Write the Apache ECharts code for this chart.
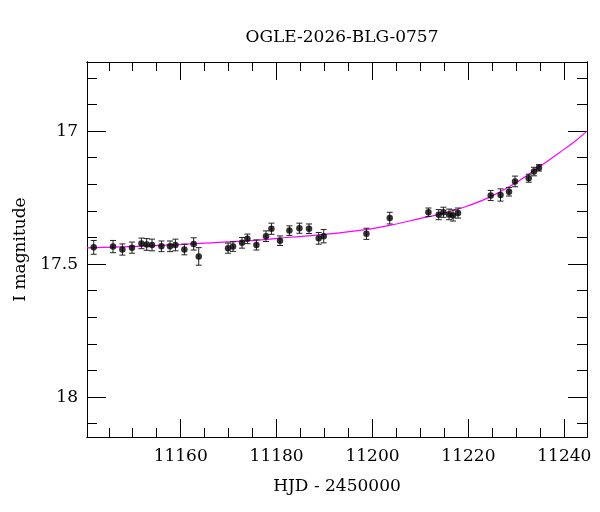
<!DOCTYPE html>
<html>
<head>
<meta charset="utf-8">
<script src="https://cdn.jsdelivr.net/npm/echarts@6/dist/echarts.min.js"></script>
<style>
  html, body { margin: 0; padding: 0; background: #fff; }
  #chart { width: 600px; height: 512px; }
</style>
</head>
<body>
<div id="chart"></div>
<script>
// photometry points (HJD - 2450000, I mag, error)
var hjd = [11141.86, 11145.88, 11147.84, 11149.84, 11151.81, 11152.91, 11154.02, 11155.98, 11157.77, 11158.90,
           11160.77, 11162.71, 11163.76, 11169.87, 11170.91, 11172.79, 11173.91, 11175.79, 11177.79, 11178.92,
           11180.71, 11182.67, 11184.76, 11186.76, 11188.78, 11189.82, 11198.73, 11203.59, 11211.66, 11213.81,
           11214.79, 11215.96, 11216.79, 11217.83, 11224.65, 11226.70, 11228.47, 11229.72, 11232.58, 11233.68,
           11234.72];
var imag = [17.437, 17.434, 17.445, 17.438, 17.422, 17.426, 17.428, 17.433, 17.433, 17.428,
            17.445, 17.424, 17.471, 17.440, 17.434, 17.420, 17.405, 17.428, 17.395, 17.367,
            17.412, 17.374, 17.365, 17.367, 17.403, 17.395, 17.386, 17.327, 17.305, 17.314,
            17.305, 17.313, 17.317, 17.308, 17.242, 17.240, 17.228, 17.189, 17.177, 17.152,
            17.138];
var ierr = [0.026, 0.023, 0.021, 0.021, 0.020, 0.022, 0.022, 0.020, 0.020, 0.022,
            0.020, 0.023, 0.033, 0.019, 0.018, 0.020, 0.018, 0.019, 0.020, 0.021,
            0.018, 0.018, 0.019, 0.018, 0.022, 0.025, 0.021, 0.022, 0.016, 0.019,
            0.019, 0.020, 0.021, 0.019, 0.019, 0.023, 0.016, 0.020, 0.015, 0.016,
            0.012];

// model curve
var modelHjd = [11140.46, 11153.54, 11165.01, 11174.39, 11182.73, 11191.07, 11198.58, 11203.59, 11209.85,
                11214.02, 11219.23, 11224.44, 11229.66, 11234.66, 11239.04, 11242.17, 11244.73];
var modelMag = [17.439, 17.431, 17.421, 17.412, 17.399, 17.386, 17.370, 17.354, 17.329,
                17.312, 17.285, 17.248, 17.197, 17.136, 17.080, 17.039, 17.000];

// axes
var xMajor = [11160, 11180, 11200, 11220, 11240];
var xMinor = [11145, 11150, 11155, 11160, 11165, 11170, 11175, 11180, 11185, 11190, 11195, 11200,
              11205, 11210, 11215, 11220, 11225, 11230, 11235, 11240];
var yMajor = [17, 17.5, 18];
var yMinor = [16.8, 16.9, 17, 17.1, 17.2, 17.3, 17.4, 17.5, 17.6, 17.7, 17.8, 17.9, 18, 18.1];

var FONT = 'DejaVu Serif';
var xMin = 11140.46, xMax = 11244.73, yMin = 16.74, yMax = 18.15;

var points = [], bars = [], model = [];
for (var i = 0; i < hjd.length; i++) {
    points.push([hjd[i], imag[i]]);
    bars.push([hjd[i], imag[i], ierr[i]]);
}
for (var j = 0; j < modelHjd.length; j++) {
    model.push([modelHjd[j], modelMag[j]]);
}

function mkX(pos, ticks, len, labels, extra) {
    var ax = {
        type: 'value', position: pos, min: xMin, max: xMax,
        splitLine: {show: false},
        axisLine: {show: true, onZero: false, lineStyle: {color: '#000', width: 1}},
        axisTick: {show: true, inside: true, length: len, customValues: ticks, lineStyle: {color: '#000', width: 1}},
        axisLabel: labels ? {show: true, customValues: labels, margin: 11, color: '#000',
                             fontFamily: FONT, fontSize: 17,
                             formatter: function (v) { return String(v); }} : {show: false}
    };
    return Object.assign(ax, extra || {});
}
function mkY(pos, ticks, len, labels, extra) {
    var ax = {
        type: 'value', position: pos, min: yMin, max: yMax, inverse: true,
        splitLine: {show: false},
        axisLine: {show: true, onZero: false, lineStyle: {color: '#000', width: 1}},
        axisTick: {show: true, inside: true, length: len, customValues: ticks, lineStyle: {color: '#000', width: 1}},
        axisLabel: labels ? {show: true, customValues: labels, margin: 9, color: '#000',
                             fontFamily: FONT, fontSize: 17,
                             formatter: function (v) { return String(v); }} : {show: false}
    };
    return Object.assign(ax, extra || {});
}

var chart = echarts.init(document.getElementById('chart'), null, {renderer: 'canvas'});
var option = {
    animation: false,
    backgroundColor: '#fff',
    title: {
        text: 'OGLE-2026-BLG-0757',
        left: 337, top: 24, textAlign: 'center',
        textStyle: {fontFamily: FONT, fontSize: 17, fontWeight: 'normal', color: '#000'}
    },
    grid: {left: 87, top: 62, right: 13, bottom: 75},
    xAxis: [
        mkX('bottom', xMajor, 18, xMajor, {
            name: 'HJD - 2450000', nameLocation: 'middle', nameGap: 41,
            nameTextStyle: {fontFamily: FONT, fontSize: 17, color: '#000'}
        }),
        mkX('bottom', xMinor, 9, null),
        mkX('top', xMajor, 18, null),
        mkX('top', xMinor, 9, null)
    ],
    yAxis: [
        mkY('left', yMajor, 19, yMajor, {
            name: 'I magnitude', nameLocation: 'middle', nameGap: 58, nameRotate: 90,
            nameTextStyle: {fontFamily: FONT, fontSize: 17, color: '#000'}
        }),
        mkY('left', yMinor, 10, null),
        mkY('right', yMajor, 19, null),
        mkY('right', yMinor, 10, null)
    ],
    series: [
        {
            type: 'line', data: model, xAxisIndex: 0, yAxisIndex: 0,
            showSymbol: false, smooth: 0.4, z: 2,
            lineStyle: {color: '#ff00ff', width: 1.2}
        },
        {
            type: 'custom', data: bars, xAxisIndex: 0, yAxisIndex: 0, z: 3,
            renderItem: function (params, api) {
                var t = api.value(0), m = api.value(1), e = api.value(2);
                var top = api.coord([t, m - e]);
                var bot = api.coord([t, m + e]);
                var st = {stroke: '#222', lineWidth: 1};
                return {
                    type: 'group',
                    children: [
                        {type: 'line', shape: {x1: top[0], y1: top[1], x2: bot[0], y2: bot[1]}, style: st},
                        {type: 'line', shape: {x1: top[0] - 3, y1: top[1], x2: top[0] + 3, y2: top[1]}, style: st},
                        {type: 'line', shape: {x1: bot[0] - 3, y1: bot[1], x2: bot[0] + 3, y2: bot[1]}, style: st}
                    ]
                };
            }
        },
        {
            type: 'scatter', data: points, xAxisIndex: 0, yAxisIndex: 0, z: 4,
            symbol: 'circle', symbolSize: 6.5,
            itemStyle: {color: '#000'}
        }
    ]
};
chart.setOption(option);
</script>
</body>
</html>
